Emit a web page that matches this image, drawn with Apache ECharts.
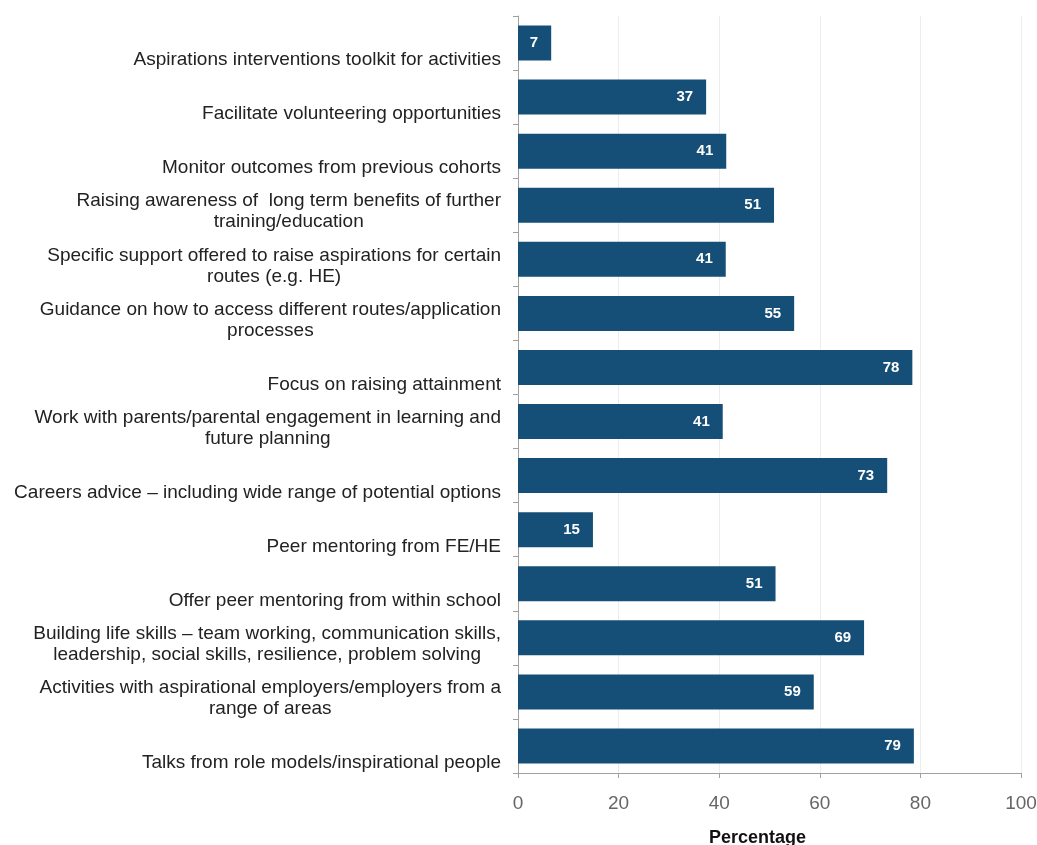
<!DOCTYPE html>
<html>
<head>
<meta charset="utf-8">
<script src="https://cdn.jsdelivr.net/npm/echarts@6/dist/echarts.min.js"></script>
<style>html,body{margin:0;padding:0;background:#fff;}#c{width:1037px;height:845px;}</style>
</head>
<body>
<div id="c"></div>
<script>
const categories = [
  "\nAspirations interventions toolkit for activities",
  "\nFacilitate volunteering opportunities",
  "\nMonitor outcomes from previous cohorts",
  "Raising awareness of  long term benefits of further\ntraining/education",
  "Specific support offered to raise aspirations for certain\nroutes (e.g. HE)",
  "Guidance on how to access different routes/application\nprocesses",
  "\nFocus on raising attainment",
  "Work with parents/parental engagement in learning and\nfuture planning",
  "\nCareers advice \u2013 including wide range of potential options",
  "\nPeer mentoring from FE/HE",
  "\nOffer peer mentoring from within school",
  "Building life skills \u2013 team working, communication skills,\nleadership, social skills, resilience, problem solving",
  "Activities with aspirational employers/employers from a\nrange of areas",
  "\nTalks from role models/inspirational people"
];
const values = [6.6, 37.4, 41.4, 50.9, 41.3, 54.9, 78.4, 40.7, 73.4, 14.9, 51.2, 68.8, 58.8, 78.7];
const xTicks = [0, 20, 40, 60, 80, 100];

const chart = echarts.init(document.getElementById('c'));
chart.setOption({
  animation: false,
  grid: { left: 518, right: 16, top: 16, bottom: 72, containLabel: false, outerBoundsMode: 'none' },
  xAxis: {
    type: 'value', min: xTicks[0], max: xTicks[xTicks.length - 1], interval: 20,
    name: 'Percentage', nameLocation: 'middle', nameGap: 56,
    nameTextStyle: { fontFamily: 'Liberation Sans', fontSize: 18, fontWeight: 'bold', color: '#111', padding: [0, 24, 0, 0] },
    axisLine: { show: true, lineStyle: { color: '#a0a0a0' } },
    axisTick: { show: true, length: 5, lineStyle: { color: '#a0a0a0' } },
    axisLabel: { fontFamily: 'Liberation Sans', fontSize: 19, color: '#666', margin: 21, showMinLabel: true, showMaxLabel: true },
    splitLine: { show: true, lineStyle: { color: '#ececec' } }
  },
  yAxis: {
    type: 'category', data: categories, inverse: true,
    axisLine: { show: true, lineStyle: { color: '#a0a0a0' } },
    axisTick: { show: true, length: 5, alignWithLabel: false, lineStyle: { color: '#a0a0a0' } },
    axisLabel: {
      interval: 0, showMinLabel: true, showMaxLabel: true, hideOverlap: false,
      fontFamily: 'Liberation Sans', fontSize: 19, color: '#222', lineHeight: 21,
      align: 'right', margin: 17, padding: [13, 0, 0, 0],
      formatter: function (v) {
        return v.split('\n').map(function (l) { return '{c|' + (l || '\u00a0') + '}'; }).join('\n');
      },
      rich: {
        c: { fontFamily: 'Liberation Sans', fontSize: 19, color: '#222', lineHeight: 21, align: 'center' }
      }
    },
    splitLine: { show: false }
  },
  series: [{
    type: 'bar', data: values, barWidth: 35,
    itemStyle: { color: '#154f78' },
    label: {
      show: true, position: 'insideRight', distance: 13,
      color: '#fff', fontFamily: 'Liberation Sans', fontWeight: 'bold', fontSize: 15,
      formatter: function (p) { return Math.round(p.value); }
    }
  }]
});
</script>
</body>
</html>
